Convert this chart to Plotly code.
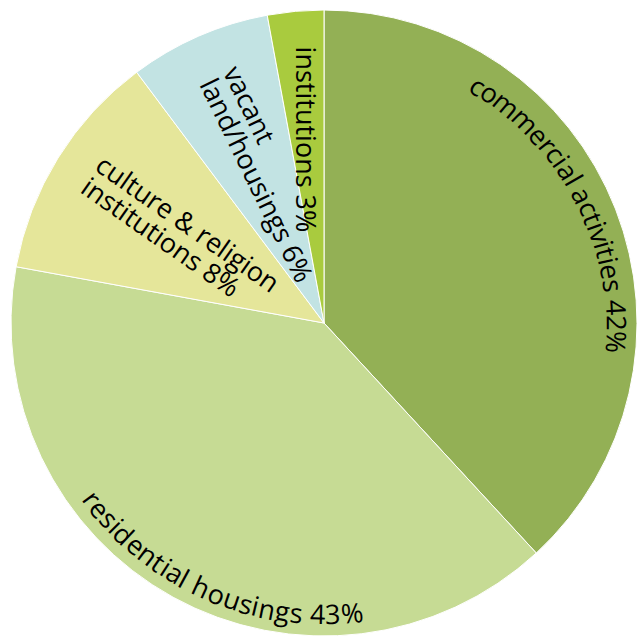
import math
import plotly.graph_objects as go

# land use shares (slice sizes as drawn) and the printed percentages
categories = ["commercial activities", "residential housings",
              "culture & religion institutions", "vacant land/housings", "institutions"]
shares = [38.1, 39.7, 11.9, 7.3, 2.9]
pct_labels = ["42%", "43%", "8%", "6%", "3%"]
colors = ["#93b055", "#c6db94", "#e5e69a", "#c2e3e3", "#a9cb3e"]
break_after = [None, None, "religion", "vacant", None]

W, H = 637, 641
ML, MR, MT, MB = 11, 0, 10, 5
SIDE = W - ML - MR          # square plot area, pie radius = SIDE / 2
R = SIDE / 2
FONT = "Open Sans"
FS = 27

# label placement: where in the slice (fraction of its angle) and how far out
place = [
    dict(kind="arc", frac=0.465, r0=0.905, r1=0.94, sense=1),
    dict(kind="arc", frac=0.46, r0=0.927, r1=0.93, sense=-1),
    dict(kind="flat", frac=0.5, r=0.537, angle=35),
    dict(kind="flat", frac=0.63, r=0.508, angle=64),
    dict(kind="flat", frac=0.47, r=0.588, angle=90),
]

# rough Open Sans advance widths (em)
CW = {"a": .556, "c": .478, "d": .613, "e": .561, "g": .548, "h": .614, "i": .253,
      "l": .253, "m": .930, "n": .614, "o": .604, "r": .408, "s": .477, "t": .353,
      "u": .614, "v": .501, " ": .26, "&": .72, "/": .37, "%": .855}


def cw(ch):
    return CW.get(ch, .572) * FS


def text_w(s):
    return sum(cw(c) for c in s)


def to_paper(dx, dy):
    return 0.5 + dx / SIDE, 0.5 - dy / SIDE


def norm(a):
    return (a + 180) % 360 - 180


fig = go.Figure(go.Pie(
    values=shares,
    labels=categories,
    sort=False,
    direction="clockwise",
    rotation=0,
    marker=dict(colors=colors, line=dict(color="white", width=1)),
    textinfo="none",
    hoverinfo="label",
    showlegend=False,
))

total = sum(shares)
annotations = []
start = 0.0
for cat, val, pct, brk, p in zip(categories, shares, pct_labels, break_after, place):
    span = val / total * 360
    theta = start + p["frac"] * span
    start += span
    text = f"{cat} {pct}"
    if p["kind"] == "arc":
        # one annotation per character, laid along the arc
        tw = text_w(text)
        rm = (p["r0"] + p["r1"]) / 2 * R
        s = -tw / 2
        for ch in text:
            w = cw(ch)
            sc = s + w / 2
            s += w
            if ch == " ":
                continue
            t = sc / tw + 0.5
            r = (p["r0"] + (p["r1"] - p["r0"]) * t) * R
            th = theta + p["sense"] * math.degrees(sc / rm)
            dx = r * math.sin(math.radians(th))
            dy = -r * math.cos(math.radians(th))
            x, y = to_paper(dx, dy)
            ang = th if p["sense"] > 0 else th - 180
            annotations.append(dict(
                x=x, y=y, xref="paper", yref="paper", text=ch, showarrow=False,
                textangle=norm(ang), xanchor="center", yanchor="middle",
                font=dict(family=FONT, size=FS, color="black")))
    else:
        if brk:
            i = text.index(brk) + len(brk)
            lines = [text[:i], text[i + 1:]]
        else:
            lines = [text]
        r = p["r"] * R
        cx = r * math.sin(math.radians(theta))
        cy = -r * math.cos(math.radians(theta))
        a = math.radians(p["angle"])
        ux, uy = math.cos(a), math.sin(a)
        vx, vy = -math.sin(a), math.cos(a)
        widths = [text_w(l) for l in lines]
        mw = max(widths)
        n = len(lines)
        for k, (line, lw) in enumerate(zip(lines, widths)):
            off = (k - (n - 1) / 2) * FS
            sh = (lw - mw) / 2   # left aligned lines
            dx = cx + off * vx + sh * ux
            dy = cy + off * vy + sh * uy
            x, y = to_paper(dx, dy)
            annotations.append(dict(
                x=x, y=y, xref="paper", yref="paper", text=line, showarrow=False,
                textangle=norm(p["angle"]), xanchor="center", yanchor="middle",
                font=dict(family=FONT, size=FS, color="black")))

fig.update_layout(
    width=W, height=H,
    margin=dict(l=ML, r=MR, t=MT, b=MB),
    paper_bgcolor="white",
    plot_bgcolor="white",
    annotations=annotations,
    showlegend=False,
)

# drop the default body margin so the figure sits at the window's corner
fig.write_html("out.html",
               config={"displayModeBar": False},
               post_script="document.body.style.margin='0';"
                           "document.body.style.overflow='hidden';")
